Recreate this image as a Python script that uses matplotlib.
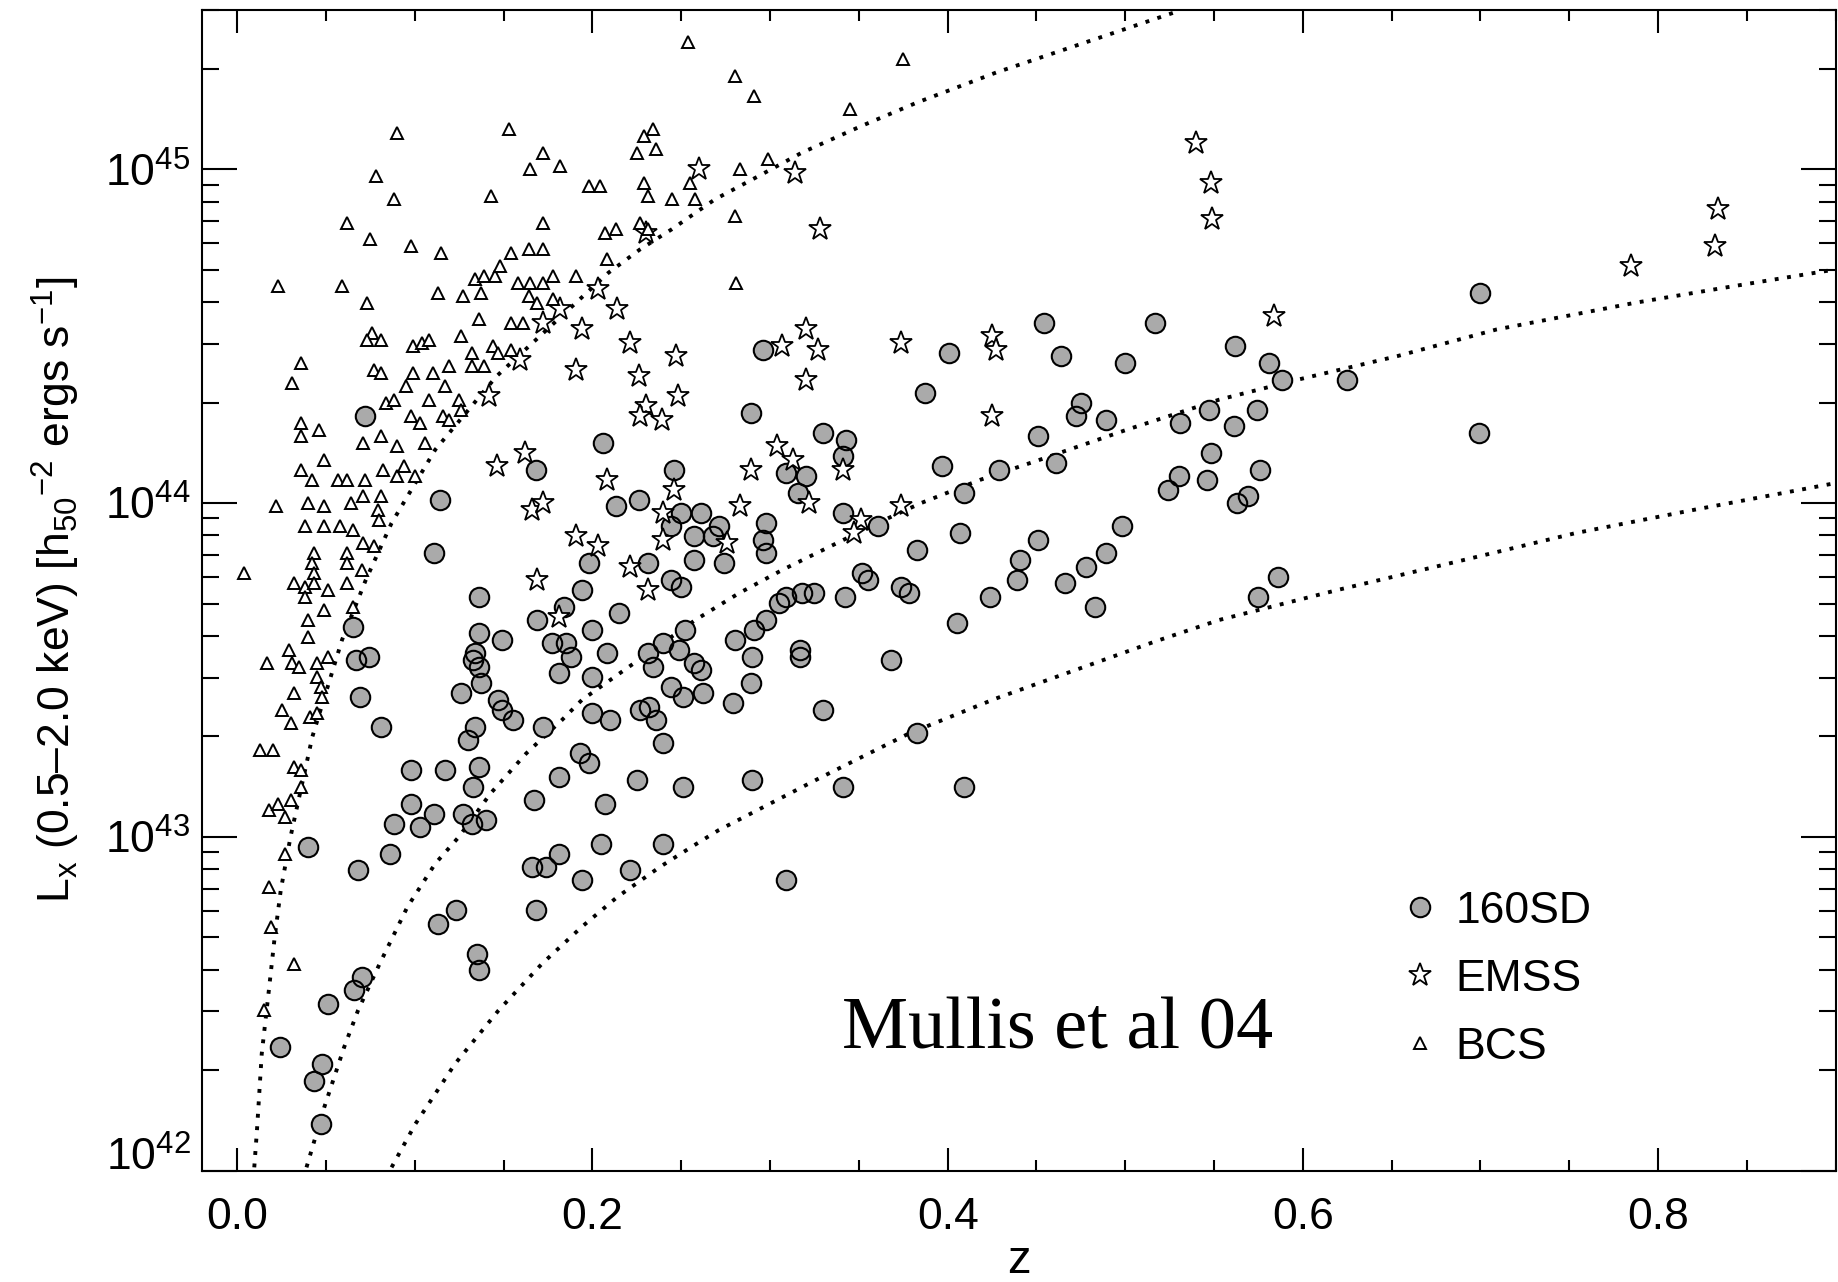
import numpy as np
import matplotlib
matplotlib.use("Agg")
import matplotlib.pyplot as plt
from matplotlib.ticker import (FixedLocator, MultipleLocator, FormatStrFormatter,
                               LogLocator, NullFormatter)

# ---------------- data: redshift and log10 of L_x [erg/s] ----------------
z_160sd = [0.072, 0.206,
           0.296, 0.289, 0.330, 0.343, 0.401, 0.387, 0.454, 0.464, 0.517, 0.500,
           0.475, 0.472, 0.489, 0.451, 0.531, 0.547,
           0.562, 0.581, 0.588, 0.625, 0.574, 0.561, 0.700, 0.699,
           0.168, 0.114, 0.213, 0.111, 0.198, 0.194, 0.136, 0.215, 0.184, 0.169,
           0.065, 0.136, 0.149, 0.200, 0.177, 0.185, 0.188, 0.208, 0.134, 0.133,
           0.136, 0.067, 0.074, 0.181, 0.200, 0.137, 0.126, 0.069, 0.147, 0.149,
           0.155, 0.200, 0.210, 0.172, 0.081, 0.134, 0.130, 0.193, 0.198, 0.181,
           0.098, 0.117, 0.136, 0.133, 0.167, 0.207, 0.098, 0.111, 0.127, 0.140,
           0.132, 0.088, 0.103, 0.040, 0.086, 0.181, 0.205,
           0.246, 0.341, 0.309, 0.320, 0.316, 0.397, 0.429, 0.461, 0.409, 0.548,
           0.530, 0.546, 0.524, 0.226, 0.341, 0.361, 0.244, 0.250, 0.261, 0.271,
           0.257, 0.268, 0.298, 0.296, 0.298, 0.257, 0.274, 0.231, 0.407, 0.383,
           0.451, 0.498, 0.441, 0.489, 0.478, 0.439, 0.466, 0.424, 0.483, 0.405,
           0.352, 0.355, 0.374, 0.378, 0.342, 0.325, 0.318, 0.309, 0.305, 0.298,
           0.291, 0.244, 0.250, 0.280, 0.290, 0.317, 0.317, 0.252, 0.240, 0.249,
           0.231, 0.234, 0.257, 0.261, 0.244, 0.251, 0.262, 0.289, 0.279, 0.368,
           0.227, 0.232, 0.236, 0.240, 0.330, 0.383, 0.225, 0.251, 0.290, 0.341,
           0.409, 0.240,
           0.576, 0.569, 0.563, 0.586, 0.575,
           0.068, 0.123, 0.113, 0.135, 0.136, 0.166, 0.174, 0.194, 0.168,
           0.051, 0.070, 0.066, 0.024, 0.048, 0.043, 0.047,
           0.221, 0.309]
log_lx_160sd = [44.26, 44.18,
                44.46, 44.27, 44.21, 44.19, 44.45, 44.33, 44.54, 44.44, 44.54, 44.42,
                44.30, 44.26, 44.25, 44.20, 44.24, 44.28,
                44.47, 44.42, 44.37, 44.37, 44.28, 44.23, 44.63, 44.21,
                44.10, 44.01, 43.99, 43.85, 43.82, 43.74, 43.72, 43.67, 43.69, 43.65,
                43.63, 43.61, 43.59, 43.62, 43.58, 43.58, 43.54, 43.55, 43.55, 43.53,
                43.51, 43.53, 43.54, 43.49, 43.48, 43.46, 43.43, 43.42, 43.41, 43.38,
                43.35, 43.37, 43.35, 43.33, 43.33, 43.33, 43.29, 43.25, 43.22, 43.18,
                43.20, 43.20, 43.21, 43.15, 43.11, 43.10, 43.10, 43.07, 43.07, 43.05,
                43.04, 43.04, 43.03, 42.97, 42.95, 42.95, 42.98,
                44.10, 44.14, 44.09, 44.08, 44.03, 44.11, 44.10, 44.12, 44.03, 44.15,
                44.08, 44.07, 44.04, 44.01, 43.97, 43.93, 43.93, 43.97, 43.97, 43.93,
                43.90, 43.90, 43.94, 43.89, 43.85, 43.83, 43.82, 43.82, 43.91, 43.86,
                43.89, 43.93, 43.83, 43.85, 43.81, 43.77, 43.76, 43.72, 43.69, 43.64,
                43.79, 43.77, 43.75, 43.73, 43.72, 43.73, 43.73, 43.72, 43.70, 43.65,
                43.62, 43.77, 43.75, 43.59, 43.54, 43.56, 43.54, 43.62, 43.58, 43.56,
                43.55, 43.51, 43.52, 43.50, 43.45, 43.42, 43.43, 43.46, 43.40, 43.53,
                43.38, 43.39, 43.35, 43.28, 43.38, 43.31, 43.17, 43.15, 43.17, 43.15,
                43.15, 42.98,
                44.10, 44.02, 44.00, 43.78, 43.72,
                42.90, 42.78, 42.74, 42.65, 42.60, 42.91, 42.91, 42.87, 42.78,
                42.50, 42.58, 42.54, 42.37, 42.32, 42.27, 42.14,
                42.90, 42.87]

z_emss = [0.203, 0.214, 0.182, 0.172, 0.194, 0.191, 0.159, 0.142,
          0.260, 0.314, 0.328, 0.230, 0.320, 0.221, 0.247, 0.307, 0.327, 0.226,
          0.320, 0.248, 0.230, 0.227, 0.239, 0.374, 0.425, 0.427, 0.425, 0.304,
          0.540, 0.548, 0.549,
          0.584, 0.785, 0.834, 0.832,
          0.162, 0.146, 0.208, 0.166, 0.172, 0.191, 0.203, 0.169, 0.181,
          0.246, 0.289, 0.313, 0.341, 0.283, 0.322, 0.240, 0.240, 0.276, 0.221,
          0.231, 0.351, 0.347, 0.374]
log_lx_emss = [44.64, 44.58, 44.58, 44.54, 44.52, 44.40, 44.43, 44.32,
               45.00, 44.99, 44.82, 44.81, 44.52, 44.48, 44.44, 44.47, 44.46, 44.38,
               44.37, 44.32, 44.29, 44.26, 44.25, 44.48, 44.50, 44.46, 44.26, 44.17,
               45.08, 44.96, 44.85,
               44.56, 44.71, 44.88, 44.77,
               44.15, 44.11, 44.07, 43.98, 44.00, 43.90, 43.87, 43.77, 43.66,
               44.04, 44.10, 44.13, 44.10, 43.99, 44.00, 43.89, 43.97, 43.88, 43.81,
               43.74, 43.95, 43.91, 43.99]

z_bcs = [0.090, 0.153, 0.172, 0.165, 0.182, 0.078, 0.088, 0.143, 0.198, 0.204,
         0.062, 0.172, 0.075, 0.098, 0.115, 0.154, 0.164, 0.172, 0.207, 0.213,
         0.208, 0.023, 0.059, 0.073, 0.113, 0.127, 0.137, 0.134, 0.139, 0.145,
         0.148, 0.158, 0.165, 0.172, 0.178, 0.191, 0.164, 0.169, 0.178, 0.136,
         0.154, 0.161, 0.076, 0.073, 0.081, 0.099, 0.104, 0.108, 0.126, 0.036,
         0.031, 0.077, 0.081, 0.099, 0.110, 0.119, 0.132, 0.139, 0.144, 0.132,
         0.147, 0.154, 0.095, 0.117, 0.084, 0.088, 0.108, 0.125, 0.126, 0.036,
         0.036, 0.046, 0.098, 0.103, 0.116, 0.119, 0.071, 0.081, 0.090, 0.106,
         0.254, 0.280, 0.291, 0.375, 0.345, 0.234, 0.229, 0.225, 0.236,
         0.229, 0.231, 0.245, 0.255, 0.258, 0.283, 0.299, 0.280, 0.227, 0.231,
         0.281,
         0.049, 0.036, 0.042, 0.057, 0.062, 0.072, 0.082, 0.090, 0.094, 0.100,
         0.022, 0.040, 0.049, 0.064, 0.071, 0.081, 0.079, 0.080, 0.038, 0.049,
         0.058, 0.065, 0.071, 0.077, 0.043, 0.062, 0.042, 0.062, 0.070, 0.043,
         0.004, 0.032, 0.038, 0.043, 0.051, 0.062, 0.038, 0.065, 0.049, 0.040,
         0.040, 0.029, 0.017, 0.031, 0.035, 0.045, 0.051, 0.045, 0.047, 0.048,
         0.032, 0.025, 0.030, 0.041, 0.045, 0.013, 0.020, 0.032, 0.036, 0.036,
         0.018, 0.023, 0.030, 0.027,
         0.027, 0.018, 0.019, 0.032, 0.015]
log_lx_bcs = [45.11, 45.12, 45.05, 45.00, 45.01, 44.98, 44.91, 44.92, 44.95, 44.95,
              44.84, 44.84, 44.79, 44.77, 44.75, 44.75, 44.76, 44.76, 44.81, 44.82,
              44.73, 44.65, 44.65, 44.60, 44.63, 44.62, 44.63, 44.67, 44.68, 44.68,
              44.71, 44.66, 44.66, 44.66, 44.68, 44.68, 44.62, 44.60, 44.61, 44.55,
              44.54, 44.54, 44.51, 44.49, 44.49, 44.47, 44.48, 44.49, 44.50, 44.42,
              44.36, 44.40, 44.39, 44.39, 44.39, 44.41, 44.41, 44.41, 44.47, 44.45,
              44.45, 44.46, 44.35, 44.35, 44.30, 44.31, 44.31, 44.31, 44.28, 44.24,
              44.20, 44.22, 44.26, 44.24, 44.26, 44.25, 44.18, 44.20, 44.17, 44.18,
              45.38, 45.28, 45.22, 45.33, 45.18, 45.12, 45.10, 45.05, 45.06,
              44.96, 44.92, 44.91, 44.96, 44.91, 45.00, 45.03, 44.86, 44.84, 44.82,
              44.66,
              44.13, 44.10, 44.07, 44.07, 44.07, 44.07, 44.10, 44.08, 44.11, 44.08,
              43.99, 44.00, 43.99, 44.00, 44.02, 44.02, 43.98, 43.95, 43.93, 43.93,
              43.93, 43.92, 43.88, 43.87, 43.85, 43.85, 43.82, 43.82, 43.80, 43.79,
              43.79, 43.76, 43.75, 43.76, 43.74, 43.76, 43.72, 43.69, 43.68, 43.65,
              43.60, 43.56, 43.52, 43.52, 43.51, 43.52, 43.54, 43.48, 43.45, 43.42,
              43.43, 43.38, 43.34, 43.36, 43.37, 43.26, 43.26, 43.21, 43.20, 43.15,
              43.08, 43.10, 43.11, 43.06,
              42.95, 42.85, 42.73, 42.62, 42.48]

# flux-limit curves of the three surveys
z_lim_a = [0.0096, 0.0111, 0.0138, 0.0178, 0.0211, 0.0245, 0.030, 0.0423, 0.059,
           0.0724, 0.0869, 0.0947, 0.1115, 0.146, 0.209, 0.2268, 0.2446, 0.269,
           0.2937, 0.318, 0.3516, 0.3828, 0.4274, 0.472, 0.5277]
log_lim_a = [42.01, 42.12, 42.35, 42.54, 42.70, 42.84, 43.00, 43.30, 43.59,
             43.77, 43.94, 44.01, 44.16, 44.38, 44.69, 44.76, 44.82, 44.91,
             44.98, 45.05, 45.13, 45.20, 45.29, 45.37, 45.47]
z_lim_b = [0.039, 0.049, 0.0602, 0.068, 0.0802, 0.0958, 0.1115, 0.1248, 0.1426,
           0.1627, 0.1828, 0.194, 0.258, 0.2825, 0.307, 0.3338, 0.3605, 0.385,
           0.4185, 0.452, 0.501, 0.553, 0.5974, 0.653, 0.709, 0.787, 0.8427, 0.90]
log_lim_b = [42.01, 42.19, 42.37, 42.48, 42.62, 42.79, 42.92, 43.00, 43.13,
             43.25, 43.35, 43.41, 43.65, 43.73, 43.80, 43.87, 43.94, 44.00,
             44.07, 44.13, 44.22, 44.31, 44.37, 44.44, 44.52, 44.60, 44.65, 44.70]
z_lim_c = [0.0869, 0.1003, 0.1226, 0.1471, 0.1716, 0.1939, 0.214, 0.238, 0.2558,
           0.271, 0.3293, 0.3783, 0.4274, 0.472, 0.5166, 0.553, 0.6198, 0.691,
           0.7535, 0.8204, 0.90]
log_lim_c = [42.01, 42.14, 42.32, 42.48, 42.62, 42.73, 42.82, 42.91, 42.97,
             43.02, 43.18, 43.31, 43.415, 43.50, 43.585, 43.65, 43.74, 43.83,
             43.91, 43.98, 44.06]

legend_labels = ["160SD", "EMSS", "BCS"]
x_ticks = [0.0, 0.2, 0.4, 0.6, 0.8]
y_ticks = [1e42, 1e43, 1e44, 1e45]

# ---------------- style ----------------
plt.rcParams.update({
    "font.family": ["Liberation Sans", "DejaVu Sans"],
    "mathtext.fontset": "custom",
    "mathtext.rm": "Liberation Sans",
    "mathtext.it": "Liberation Sans:italic",
    "mathtext.bf": "Liberation Sans:bold",
    "axes.linewidth": 1.5,
})
FS = 32
GREY = "#aaaaaa"

fig = plt.figure(figsize=(18.38, 12.82), dpi=100)
ax = fig.add_axes([0.10974, 0.08682, 0.88901, 0.90538])
ax.set_yscale("log")
ax.set_xlim(-0.02, 0.9)
ax.set_ylim(1e42, 3e45)

# flux limits
for zc, lc in [(z_lim_a, log_lim_a), (z_lim_b, log_lim_b), (z_lim_c, log_lim_c)]:
    ax.plot(zc, 10 ** np.asarray(lc), color="k", lw=2.8,
            linestyle=(0, (1, 2.2)), dash_capstyle="butt", zorder=2)

# 160SD: fills first, then outlines, so overlapping rims stay visible
fill_160, = ax.plot(z_160sd, 10 ** np.asarray(log_lx_160sd), ls="none", marker="o",
                    ms=14, mfc=GREY, mec="none", zorder=3)
rim_160, = ax.plot(z_160sd, 10 ** np.asarray(log_lx_160sd), ls="none", marker="o",
                   ms=14, mfc="none", mec="k", mew=1.5, zorder=3.1)
emss, = ax.plot(z_emss, 10 ** np.asarray(log_lx_emss), ls="none", marker="*",
                ms=17, mfc="white", mec="k", mew=1.3, zorder=4)
bcs, = ax.plot(z_bcs, 10 ** np.asarray(log_lx_bcs), ls="none", marker="^",
               ms=8.5, mfc="white", mec="k", mew=1.4, zorder=5)

# axes and ticks
ax.xaxis.set_major_locator(FixedLocator(x_ticks))
ax.xaxis.set_major_formatter(FormatStrFormatter("%.1f"))
ax.xaxis.set_minor_locator(MultipleLocator(0.05))
ax.yaxis.set_major_locator(FixedLocator(y_ticks))
ax.yaxis.set_minor_locator(LogLocator(base=10, subs=np.arange(2, 10)))
ax.yaxis.set_minor_formatter(NullFormatter())

ax.tick_params(axis="x", which="major", direction="in", length=16.5, width=1.5,
               top=True, pad=19, labelsize=FS)
ax.tick_params(axis="x", which="minor", direction="in", length=8, width=1.5, top=True)
ax.tick_params(axis="y", which="major", direction="in", length=25, width=1.5,
               right=True, pad=8, labelsize=FS)
ax.tick_params(axis="y", which="minor", direction="in", length=12.5, width=1.5,
               right=True)

# the lowest label sits on the bottom axis line
ylabs = ax.yaxis.get_majorticklabels()
ylabs[0].set_verticalalignment("baseline")

ax.set_xlabel("z", fontsize=FS + 2, va="baseline")
ax.xaxis.set_label_coords(0.5, -0.0885)
ax.set_ylabel(r"L$_{\mathrm{x}}$ (0.5–2.0 keV) [h$_{50}$$^{-2}$ ergs s$^{-1}$]",
              fontsize=FS, va="baseline")
ax.yaxis.set_label_coords(-0.080, 0.5)

ax.legend([(fill_160, rim_160), emss, bcs], legend_labels, loc="upper left",
          bbox_to_anchor=(0.7321, 0.2414), frameon=False, borderpad=0,
          borderaxespad=0, handlelength=1.0, handletextpad=0.29,
          labelspacing=0.61, fontsize=FS)

ax.text(0.3919, 0.1057, "Mullis et al 04", transform=ax.transAxes,
        fontsize=53.5, family="Liberation Serif", ha="left", va="baseline")

fig.savefig("out.png", dpi=100)
